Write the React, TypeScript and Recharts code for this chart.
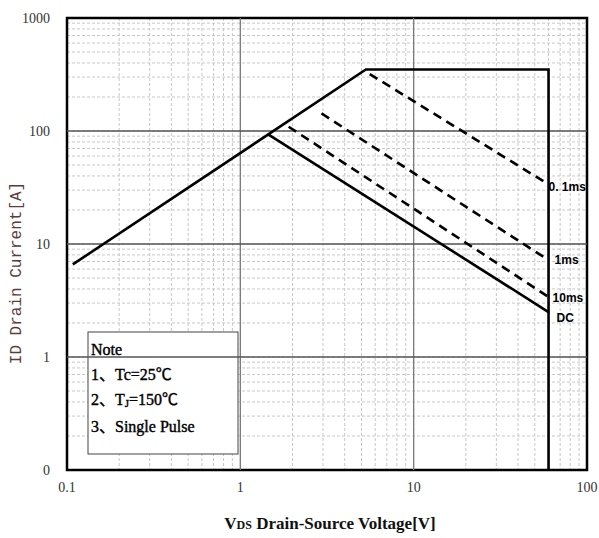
import React from "react"
import { LineChart, Line, XAxis, YAxis, CartesianGrid, ReferenceLine, ReferenceArea, Customized } from "recharts"

// axis decades and labels
const xMajor = [0.1, 1, 10, 100]
const xMajorLabels = ["0.1", "1", "10", "100"]
const yMajor = [0.1, 1, 10, 100, 1000]
const yMajorLabels = ["0", "1", "10", "100", "1000"]
const minorSteps = [2, 3, 4, 5, 6, 7, 8, 9]

// SOA curves (VDS [V], ID [A])
const limitV = [0.108, 5.3, 60, 60]
const limitI = [6.6, 350, 350, 0.1]
const dcV = [1.44, 60]
const dcI = [94, 2.5]
const ms10V = [1.9, 60]
const ms10I = [109, 3.4]
const ms1V = [2.94, 60]
const ms1I = [143, 7.2]
const ms01V = [5.58, 60]
const ms01I = [319, 33.7]

const noteLines = ["Note", "1、Tc=25℃", "2、TJ=150℃", "3、Single Pulse"]

const toPoints = (v: number[], i: number[]) => v.map((x, k) => ({ v: x, i: i[k] }))

const withMinor = (major: number[]) =>
    [...major, ...major.slice(0, -1).flatMap(d => minorSteps.map(m => Number((d * m).toPrecision(4))))]
        .sort((a, b) => a - b)

const xTicks = withMinor(xMajor)
const yTicks = withMinor(yMajor)

const fmt = (majors: number[], labels: string[]) => (val: number) => {
    const k = majors.indexOf(val)
    return k >= 0 ? labels[k] : ""
}

const endLabel = (text: string, count: number, dx: number, dy: number) => (props: any) => {
    if (props.index !== count - 1) return null
    return (
        <text
            x={props.x + dx}
            y={props.y + dy}
            fontFamily="'Liberation Sans Narrow', 'Liberation Sans', sans-serif"
            fontWeight="bold"
            fontSize={12}
            fill="#000"
            dominantBaseline="middle"
        >
            {text}
        </text>
    )
}

const Titles = () => (
    <g>
        <text
            x={17}
            y={273}
            transform="rotate(-90 17 273)"
            textAnchor="middle"
            dominantBaseline="middle"
            fontFamily="'Liberation Mono', monospace"
            fontSize={16}
            fill="#5a3c3c"
        >
            ID Drain Current[A]
        </text>
        <text
            x={330}
            y={529}
            textAnchor="middle"
            fontFamily="'Liberation Serif', serif"
            fontWeight="bold"
            fontSize={17}
            fill="#111"
        >
            V<tspan fontSize={12}>DS</tspan> Drain-Source Voltage[V]
        </text>
    </g>
)

const NoteBox = () => {
    const font = "'Liberation Serif', 'Noto Sans CJK SC', serif"
    const txt = { fontFamily: font, fontSize: 16, fill: "#000", stroke: "#000", strokeWidth: 0.4 }
    return (
        <g>
            <rect x={88} y={332} width={150} height={122} fill="#fff" stroke="#444" strokeWidth={1} />
            <text x={91} y={355} {...txt}>{noteLines[0]}</text>
            <text x={91} y={380} {...txt}>{noteLines[1]}</text>
            <text x={91} y={405} {...txt}>
                2、T<tspan fontSize={11} dy={2}>J</tspan><tspan dy={-2}>=150℃</tspan>
            </text>
            <text x={91} y={432} {...txt}>{noteLines[3]}</text>
        </g>
    )
}

export default function App() {
    const tickStyle = { fill: "#333", fontSize: 14, fontFamily: "'Liberation Serif', serif" }
    return (
        <div style={{ position: "absolute", left: 0, top: 0, background: "#fff" }}>
            <LineChart width={599} height={538} margin={{ top: 18, right: 12, bottom: 0, left: 0 }}>
                <CartesianGrid stroke="#c8c8c8" strokeDasharray="3 2" />
                <XAxis
                    type="number"
                    dataKey="v"
                    scale="log"
                    domain={[0.1, 100]}
                    ticks={xTicks}
                    tickFormatter={fmt(xMajor, xMajorLabels)}
                    allowDataOverflow
                    axisLine={false}
                    tickLine={false}
                    tickSize={0}
                    tickMargin={12}
                    height={68}
                    tick={tickStyle}
                    interval={0}
                />
                <YAxis
                    type="number"
                    dataKey="i"
                    scale="log"
                    domain={[0.1, 1000]}
                    ticks={yTicks}
                    tickFormatter={fmt(yMajor, yMajorLabels)}
                    allowDataOverflow
                    axisLine={false}
                    tickLine={false}
                    tickSize={0}
                    tickMargin={17}
                    width={67}
                    tick={tickStyle}
                    interval={0}
                />
                {xMajor.slice(1, -1).map(v => (
                    <ReferenceLine key={"x" + v} x={v} stroke="#7a7a7a" strokeWidth={1.3} />
                ))}
                {yMajor.slice(1, -1).map(v => (
                    <ReferenceLine key={"y" + v} y={v} stroke="#555" strokeWidth={1.3} />
                ))}
                <ReferenceArea x1={0.1} x2={100} y1={0.1} y2={1000} fill="none" stroke="#000" strokeWidth={2.5} />

                <Line data={toPoints(limitV, limitI)} dataKey="i" stroke="#000" strokeWidth={2.6} dot={false} isAnimationActive={false} />
                <Line data={toPoints(dcV, dcI)} dataKey="i" stroke="#000" strokeWidth={2.6} dot={false} isAnimationActive={false}
                    label={endLabel("DC", dcV.length, 8, 7)} />
                <Line data={toPoints(ms10V, ms10I)} dataKey="i" stroke="#000" strokeWidth={2.6} strokeDasharray="9 6" dot={false} isAnimationActive={false}
                    label={endLabel("10ms", ms10V.length, 4, 2)} />
                <Line data={toPoints(ms1V, ms1I)} dataKey="i" stroke="#000" strokeWidth={2.6} strokeDasharray="9 6" dot={false} isAnimationActive={false}
                    label={endLabel("1ms", ms1V.length, 6, 1)} />
                <Line data={toPoints(ms01V, ms01I)} dataKey="i" stroke="#000" strokeWidth={2.6} strokeDasharray="9 6" dot={false} isAnimationActive={false}
                    label={endLabel("0. 1ms", ms01V.length, 0, 3)} />

                <Customized component={NoteBox} />
                <Customized component={Titles} />
            </LineChart>
        </div>
    )
}
